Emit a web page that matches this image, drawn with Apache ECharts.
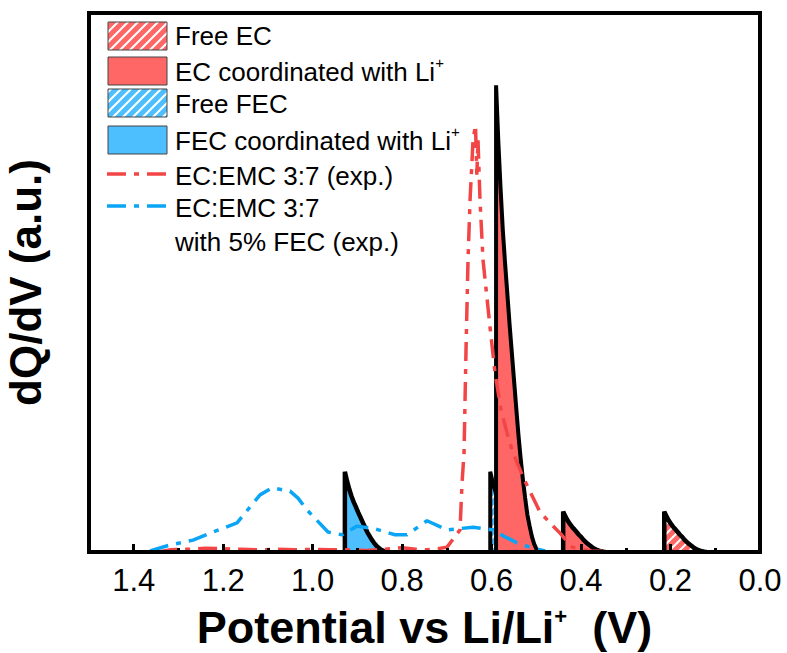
<!DOCTYPE html>
<html><head><meta charset="utf-8">
<script src="https://cdn.jsdelivr.net/npm/echarts@6/dist/echarts.min.js"></script>
<style>html,body{margin:0;padding:0;background:#fff}#c{width:787px;height:653px}</style>
</head><body><div id="c"></div><script>
// ---------------- data ----------------
const legendNames = ['Free EC', 'EC coordinated with Li+', 'Free FEC', 'FEC coordinated with Li+', 'EC:EMC 3:7 (exp.)', 'EC:EMC 3:7\nwith 5% FEC (exp.)'];
const xTitle = 'Potential vs Li/Li+  (V)';
const yTitle = 'dQ/dV (a.u.)';

// Free EC peak (hatched red)
const freeECx = [0.214,0.214,0.209,0.204,0.199,0.194,0.189,0.184,0.179,0.174,0.169,0.164,0.159,0.154,0.149,0.144,0.139,0.134,0.129,0.124,0.119];
const freeECy = [0,0.075,0.066,0.0585,0.052,0.0465,0.042,0.037,0.032,0.028,0.023,0.019,0.015,0.012,0.0086,0.006,0.0041,0.0025,0.0013,0.0005,0];
// EC coordinated with Li+ peaks (solid red)
const coordEC1x = [0.590,0.590,0.585,0.580,0.575,0.570,0.565,0.560,0.555,0.550,0.545,0.540,0.535,0.530,0.525,0.520,0.515,0.510,0.505,0.500,0.495];
const coordEC1y = [0,0.866,0.762,0.675,0.598,0.537,0.481,0.424,0.372,0.320,0.268,0.217,0.173,0.134,0.100,0.069,0.048,0.029,0.015,0.006,0];
const coordEC2x = [0.440,0.440,0.435,0.430,0.425,0.420,0.415,0.410,0.405,0.400,0.395,0.390,0.385,0.380,0.375,0.370,0.365,0.360,0.355,0.350,0.345];
const coordEC2y = [0,0.075,0.066,0.0585,0.052,0.0465,0.042,0.037,0.032,0.028,0.023,0.019,0.015,0.012,0.0086,0.006,0.0041,0.0025,0.0013,0.0005,0];
// Free FEC peak (hatched blue)
const freeFECx = [0.603,0.603,0.598,0.593,0.588,0.583,0.578,0.573,0.568,0.563,0.558,0.553,0.548,0.543,0.538,0.533,0.528,0.523,0.518,0.513,0.508];
const freeFECy = [0,0.149,0.131,0.116,0.103,0.092,0.083,0.073,0.064,0.055,0.046,0.037,0.030,0.023,0.017,0.012,0.008,0.005,0.0025,0.001,0];
// FEC coordinated with Li+ peak (solid blue)
const coordFECx = [0.928,0.928,0.923,0.918,0.913,0.908,0.903,0.898,0.893,0.888,0.883,0.878,0.873,0.868,0.863,0.858,0.853,0.848,0.843,0.838,0.833];
const coordFECy = [0,0.149,0.131,0.116,0.103,0.092,0.083,0.073,0.064,0.055,0.046,0.037,0.030,0.023,0.017,0.012,0.008,0.005,0.0025,0.001,0];
// EC:EMC 3:7 experimental
const expECx = [1.345,1.32,1.28,1.24,1.20,1.16,1.12,1.08,1.04,1.00,0.96,0.92,0.88,0.84,0.80,0.77,0.7444,0.72,0.6996,0.6706,0.6661,0.6616,0.6572,0.6527,0.6482,0.6415,0.6360,0.6330,0.6304,0.6259,0.6192,0.6035,0.5923,0.5789,0.5655,0.5543,0.5297,0.4917,0.4694,0.4470,0.4202,0.3797,0.3127];
const expECy = [0.000,0.004,0.005,0.007,0.006,0.005,0.004,0.005,0.004,0.005,0.004,0.004,0.003,0.005,0.008,0.005,0.004,0.006,0.009,0.041,0.128,0.184,0.375,0.542,0.653,0.764,0.792,0.700,0.764,0.653,0.542,0.417,0.332,0.263,0.221,0.189,0.139,0.074,0.054,0.035,0.009,0.002,0.000];
// EC:EMC 3:7 with 5% FEC experimental
const expFECx = [1.3636,1.3189,1.2675,1.2228,1.1691,1.1177,1.0909,1.0506,1.0327,1.0126,0.9657,0.9344,0.9009,0.8606,0.8159,0.7891,0.7444,0.6996,0.6415,0.5968,0.5744,0.5431,0.5074,0.4805];
const expFECy = [0.002,0.013,0.022,0.037,0.054,0.106,0.119,0.113,0.100,0.078,0.037,0.032,0.048,0.043,0.032,0.032,0.058,0.041,0.046,0.041,0.030,0.017,0.007,0.002];

// ---------------- style ----------------
const FONT = '"Liberation Sans", Arial, Helvetica, sans-serif';
const RED = '#FF6666', BLUE = '#4DBFFF', RED_LINE = '#F24646', BLUE_LINE = '#0AA5F5';
const DASH = [19, 8, 5, 8];

function hatch(bg) {
  const c = document.createElement('canvas');
  c.width = 10; c.height = 10;
  const g = c.getContext('2d');
  g.fillStyle = bg; g.fillRect(0, 0, 10, 10);
  g.strokeStyle = '#fff'; g.lineWidth = 2;
  g.beginPath();
  g.moveTo(-2, 12); g.lineTo(12, -2);
  g.moveTo(-7, 7); g.lineTo(7, -7);
  g.moveTo(3, 17); g.lineTo(17, 3);
  g.stroke();
  return { image: c, repeat: 'repeat' };
}
const zip = (xs, ys) => xs.map((x, i) => [x, ys[i]]);
const supRich = (t) => t.replace(/\+$/, '{s|+}').replace(/\+(\s)/, '{s|+}$1');

function peak(name, xs, ys, fill, z, w) {
  return {
    type: 'line', name, data: zip(xs, ys), symbol: 'none', animation: false, silent: true,
    lineStyle: { color: '#000', width: w || 4.5, join: 'bevel' },
    areaStyle: { color: fill, opacity: 1 }, z
  };
}
function expLine(name, xs, ys, color) {
  return {
    type: 'line', name, data: zip(xs, ys), symbol: 'none', animation: false, silent: true,
    lineStyle: { color, width: 3.5, type: DASH, cap: 'butt' }, z: 8
  };
}

const hatchRed = hatch(RED), hatchBlue = hatch(BLUE);
const fills = [hatchRed, RED, hatchBlue, BLUE];

const chart = echarts.init(document.getElementById('c'), null, { renderer: 'svg' });

// legend built from graphic elements
const legendGraphics = [];
const swatchY = [22, 57, 89, 126];
const textY = [36, 71.5, 104, 141, 176, 207.5];
for (let i = 0; i < 4; i++) {
  legendGraphics.push({ type: 'rect', shape: { x: 108, y: swatchY[i], width: 59, height: 28 }, style: { fill: fills[i], stroke: '#444', lineWidth: 1 }, z: 100 });
}
legendGraphics.push({ type: 'line', shape: { x1: 107, y1: 174, x2: 168, y2: 174 }, style: { stroke: RED_LINE, lineWidth: 3.5, lineDash: DASH }, z: 100 });
legendGraphics.push({ type: 'line', shape: { x1: 107, y1: 206, x2: 168, y2: 206 }, style: { stroke: BLUE_LINE, lineWidth: 3.5, lineDash: DASH }, z: 100 });
legendNames.forEach((n, i) => {
  const multi = n.includes('\n');
  legendGraphics.push({
    type: 'text', x: 175, y: multi ? textY[i] - 17 : textY[i], z: 100,
    style: {
      text: supRich(n), font: '26px ' + FONT, fill: '#000', verticalAlign: multi ? 'top' : 'middle',
      lineHeight: 34,
      rich: { s: { fontSize: 15, fontFamily: FONT, fill: '#000', verticalAlign: 'top', lineHeight: 26 } }
    }
  });
});

const titleStyle = {
  fontSize: 45, fontWeight: 'bold', fontFamily: FONT, color: '#000',
  rich: { s: { fontSize: 22, fontWeight: 'bold', fontFamily: FONT, color: '#000', verticalAlign: 'top' } }
};

chart.setOption({
  backgroundColor: '#fff',
  animation: false,
  grid: { left: 89, right: 27, top: 13, bottom: 101, outerBoundsMode: 'none', containLabel: false, show: true, borderColor: '#000', borderWidth: 4, backgroundColor: 'transparent' },
  xAxis: [{
    type: 'value', min: 0, max: 1.5, interval: 0.2, inverse: true, z: 10,
    axisLine: { show: true, onZero: false, lineStyle: { color: '#000', width: 4 } },
    axisTick: { show: true, inside: true, length: 8, lineStyle: { color: '#000', width: 3 } },
    axisLabel: { color: '#000', fontSize: 31, fontFamily: FONT, margin: 13, formatter: v => Math.abs(v - 1.5) < 1e-6 ? '' : v.toFixed(1) },
    splitLine: { show: false },
    name: supRich(xTitle), nameLocation: 'middle', nameGap: 53, nameTextStyle: titleStyle
  }, {
    type: 'value', min: 0, max: 1.5, interval: 0.1, inverse: true, z: 10, position: 'bottom',
    axisLine: { show: false }, axisLabel: { show: false }, splitLine: { show: false },
    axisTick: { show: true, inside: true, length: 4, lineStyle: { color: '#000', width: 3 } }
  }],
  yAxis: {
    type: 'value', min: 0, max: 1,
    axisLine: { show: false }, axisTick: { show: false }, axisLabel: { show: false }, splitLine: { show: false },
    name: yTitle, nameLocation: 'middle', nameRotate: 90, nameGap: 42, nameTextStyle: Object.assign({}, titleStyle, { fontSize: 44 })
  },
  series: [
    peak(legendNames[2], freeFECx, freeFECy, hatchBlue, 2, 4),
    peak(legendNames[3], coordFECx, coordFECy, BLUE, 3),
    peak(legendNames[1], coordEC1x, coordEC1y, RED, 4, 4),
    peak(legendNames[1] + ' 2', coordEC2x, coordEC2y, RED, 5),
    peak(legendNames[0], freeECx, freeECy, hatchRed, 6),
    expLine(legendNames[4], expECx, expECy, RED_LINE),
    expLine(legendNames[5], expFECx, expFECy, BLUE_LINE)
  ],
  graphic: legendGraphics
});
</script></body></html>
